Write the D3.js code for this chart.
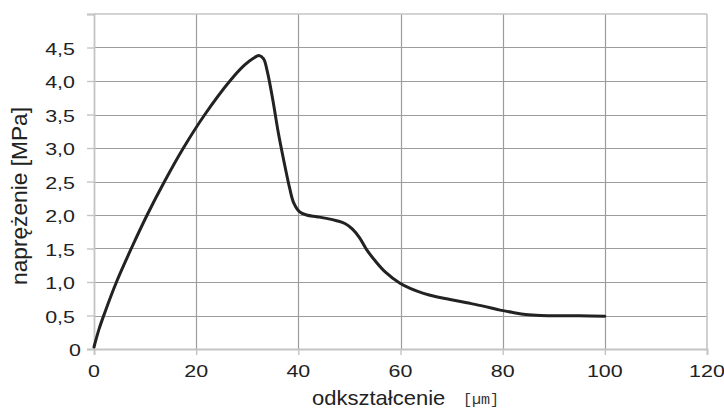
<!DOCTYPE html>
<html>
<head>
<meta charset="utf-8">
<script src="https://cdn.jsdelivr.net/npm/d3@7"></script>
<style>
  html, body { margin: 0; padding: 0; background: #fff; }
  svg { display: block; }
</style>
</head>
<body>
<svg id="chart" width="724" height="408"></svg>
<script>
// ---- data ----
const strainUm = [0, 1.0, 2.0, 4.4, 7.3, 10.4, 13.8, 17.5, 21.7, 26.6, 29.5, 31.2, 32.3, 33.2, 33.9, 35.0, 36.1, 37.4, 38.3, 39.1, 40.2, 41.6, 43.6, 45.5, 47.5, 49.2, 50.6, 52.0, 53.4, 55.0, 57.0, 59.9, 62.0, 64.5, 67.0, 69.7, 73.0, 76.2, 79.5, 82.0, 84.5, 87.5, 91.0, 95.0, 100.0];
const stressMPa = [0.03, 0.30, 0.52, 1.00, 1.50, 2.00, 2.50, 3.00, 3.50, 4.00, 4.24, 4.34, 4.38, 4.33, 4.15, 3.72, 3.22, 2.72, 2.40, 2.18, 2.05, 2.00, 1.975, 1.95, 1.915, 1.87, 1.79, 1.66, 1.48, 1.32, 1.15, 0.98, 0.90, 0.83, 0.78, 0.74, 0.69, 0.64, 0.58, 0.545, 0.515, 0.50, 0.495, 0.495, 0.49];
const xTickValues = [0, 20, 40, 60, 80, 100, 120];
const yTickValues = [0, 0.5, 1.0, 1.5, 2.0, 2.5, 3.0, 3.5, 4.0, 4.5, 5.0];
const yTickLabels = ["0", "0,5", "1,0", "1,5", "2,0", "2,5", "3,0", "3,5", "4,0", "4,5", ""];
const xTitle = "odkształcenie";
const xUnit = "[\u00b5m]";
const yTitle = "naprężenie [MPa]";

// ---- layout ----
const W = 724, H = 408;
const m = { left: 94, right: 17, top: 14, bottom: 59 };
const svg = d3.select("#chart");

const x = d3.scaleLinear().domain([0, 120]).range([m.left, W - m.right]);
const y = d3.scaleLinear().domain([0, 5]).range([H - m.bottom, m.top]);

const font = "'Liberation Sans', Arial, Helvetica, sans-serif";

// grid lines (interior)
const grid = svg.append("g");
grid.selectAll("line.h").data(yTickValues.filter(v => v > 0 && v < 5)).join("line")
  .attr("x1", x(0)).attr("x2", x(120))
  .attr("y1", d => Math.round(y(d)) + 0.5).attr("y2", d => Math.round(y(d)) + 0.5)
  .attr("stroke", "#9c9c9c").attr("stroke-width", 1.2);
grid.selectAll("line.v").data(xTickValues.filter(v => v > 0 && v < 120)).join("line")
  .attr("y1", y(0)).attr("y2", y(5))
  .attr("x1", d => Math.round(x(d)) + 0.5).attr("x2", d => Math.round(x(d)) + 0.5)
  .attr("stroke", "#9c9c9c").attr("stroke-width", 1.2);

// frame: top & right lighter
svg.append("line").attr("x1", x(0)).attr("x2", x(120)).attr("y1", y(5)).attr("y2", y(5))
  .attr("stroke", "#c4c4c4").attr("stroke-width", 1.6);
svg.append("line").attr("x1", x(120)).attr("x2", x(120)).attr("y1", y(5)).attr("y2", y(0))
  .attr("stroke", "#c4c4c4").attr("stroke-width", 1.6);

// axes via d3 axis (ticks only, labels drawn separately for stretched look)
const xAxis = svg.append("g").attr("transform", `translate(0,${y(0)})`)
  .call(d3.axisBottom(x).tickValues(xTickValues).tickSize(6).tickFormat(""));
const yAxis = svg.append("g").attr("transform", `translate(${x(0)},0)`)
  .call(d3.axisLeft(y).tickValues(yTickValues).tickSize(7).tickFormat(""));
[xAxis, yAxis].forEach(g => {
  g.selectAll("path.domain").attr("stroke", "#c4c4c4").attr("stroke-width", 1.8);
  g.selectAll(".tick line").attr("stroke", "#c4c4c4").attr("stroke-width", 1.4);
});

// x tick labels
svg.append("g").selectAll("text").data(xTickValues).join("text")
  .attr("transform", d => `translate(${x(d)},377) scale(1.3,1)`)
  .attr("text-anchor", "middle")
  .attr("font-family", font).attr("font-size", 16.5).attr("fill", "#222")
  .text(d => String(d));

// y tick labels
svg.append("g").selectAll("text").data(yTickValues).join("text")
  .attr("transform", (d, i) => `translate(${d === 0 ? 81 : 75},${y(d) + 7.3}) scale(1.3,1)`)
  .attr("text-anchor", "end")
  .attr("font-family", font).attr("font-size", 16.5).attr("fill", "#222")
  .text((d, i) => yTickLabels[i]);

// axis titles
svg.append("text")
  .attr("transform", "translate(312,405) scale(1.1,1)")
  .attr("font-family", font).attr("font-size", 20).attr("fill", "#222")
  .text(xTitle);
svg.append("text")
  .attr("x", 463).attr("y", 404)
  .attr("font-family", "'Liberation Mono', 'DejaVu Sans Mono', monospace")
  .attr("font-size", 14).attr("fill", "#333")
  .attr("textLength", 36).attr("lengthAdjust", "spacingAndGlyphs")
  .text(xUnit);
svg.append("text")
  .attr("transform", "translate(27,196) rotate(-90)")
  .attr("text-anchor", "middle")
  .attr("font-family", font).attr("font-size", 22).attr("fill", "#222")
  .attr("textLength", 178).attr("lengthAdjust", "spacingAndGlyphs")
  .text(yTitle);

// curve
const pts = strainUm.map((v, i) => [v, stressMPa[i]]);
const line = d3.line().x(d => x(d[0])).y(d => y(d[1])).curve(d3.curveCatmullRom.alpha(0.5));
svg.append("path").datum(pts)
  .attr("d", line)
  .attr("fill", "none").attr("stroke", "#222").attr("stroke-width", 3)
  .attr("stroke-linejoin", "round").attr("stroke-linecap", "round");
</script>
</body>
</html>
